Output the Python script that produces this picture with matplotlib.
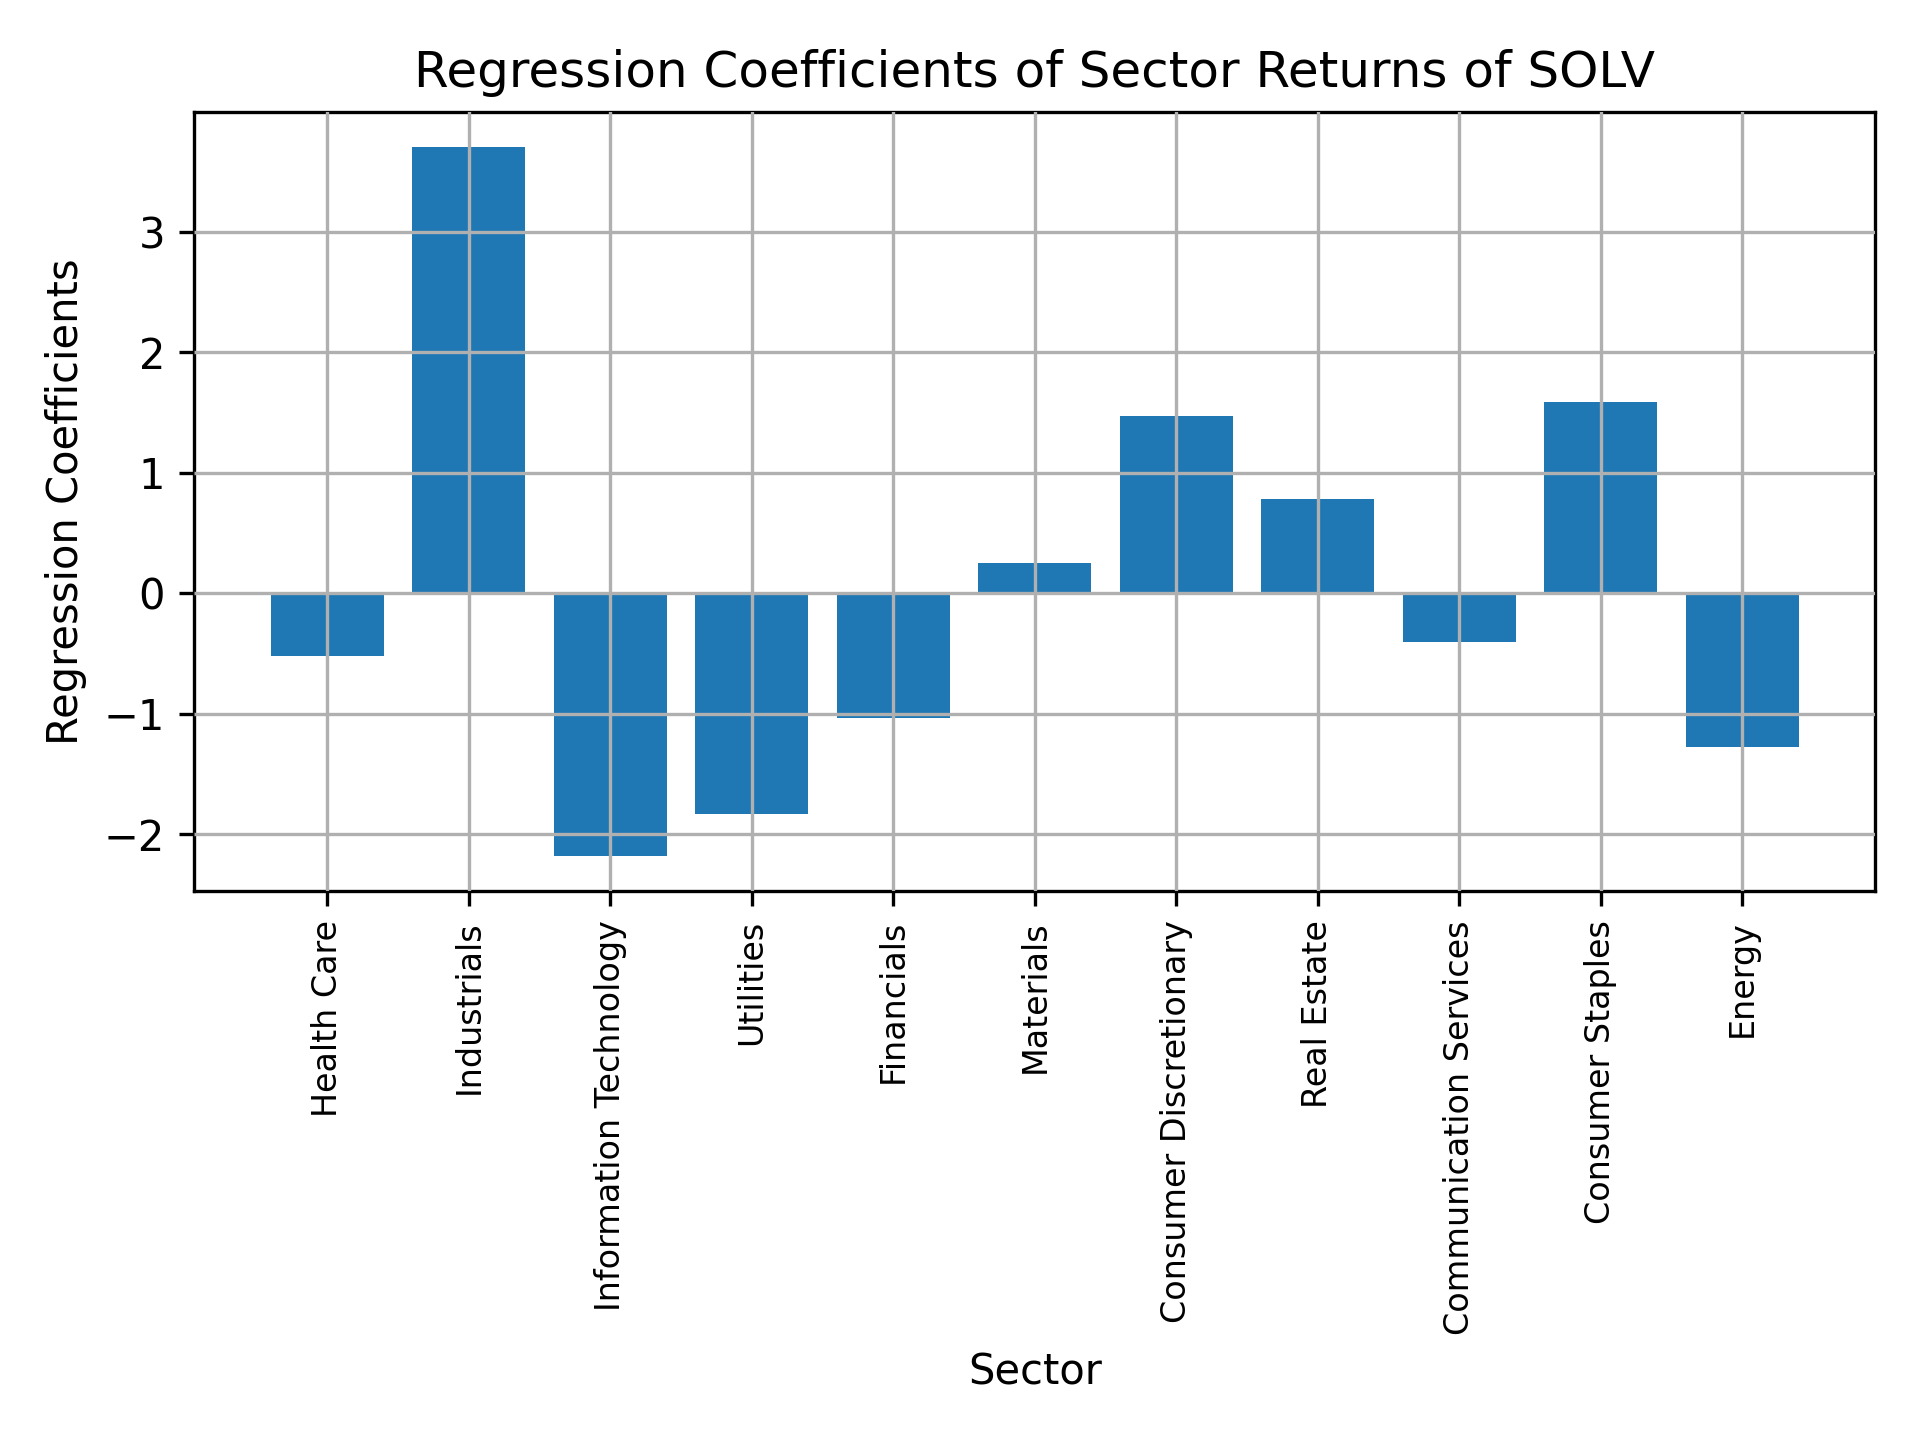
import matplotlib
matplotlib.use("Agg")
import matplotlib.pyplot as plt

sectors = ["Health Care", "Industrials", "Information Technology", "Utilities",
           "Financials", "Materials", "Consumer Discretionary", "Real Estate",
           "Communication Services", "Consumer Staples", "Energy"]
coefficients = [-0.52, 3.70, -2.175, -1.83, -1.035, 0.25, 1.468, 0.784, -0.40, 1.584, -1.277]

fig, ax = plt.subplots(figsize=(6.4, 4.8), dpi=300)
ax.bar(sectors, coefficients, color="#1f77b4")
ax.set_title("Regression Coefficients of Sector Returns of SOLV")
ax.set_xlabel("Sector")
ax.set_ylabel("Regression Coefficients")
ax.grid(True)
ax.set_axisbelow(False)
plt.xticks(rotation=90, fontsize=8)
fig.subplots_adjust(left=0.1012, right=0.9767, top=0.9222, bottom=0.3813)
fig.savefig("out.png", dpi=300)
